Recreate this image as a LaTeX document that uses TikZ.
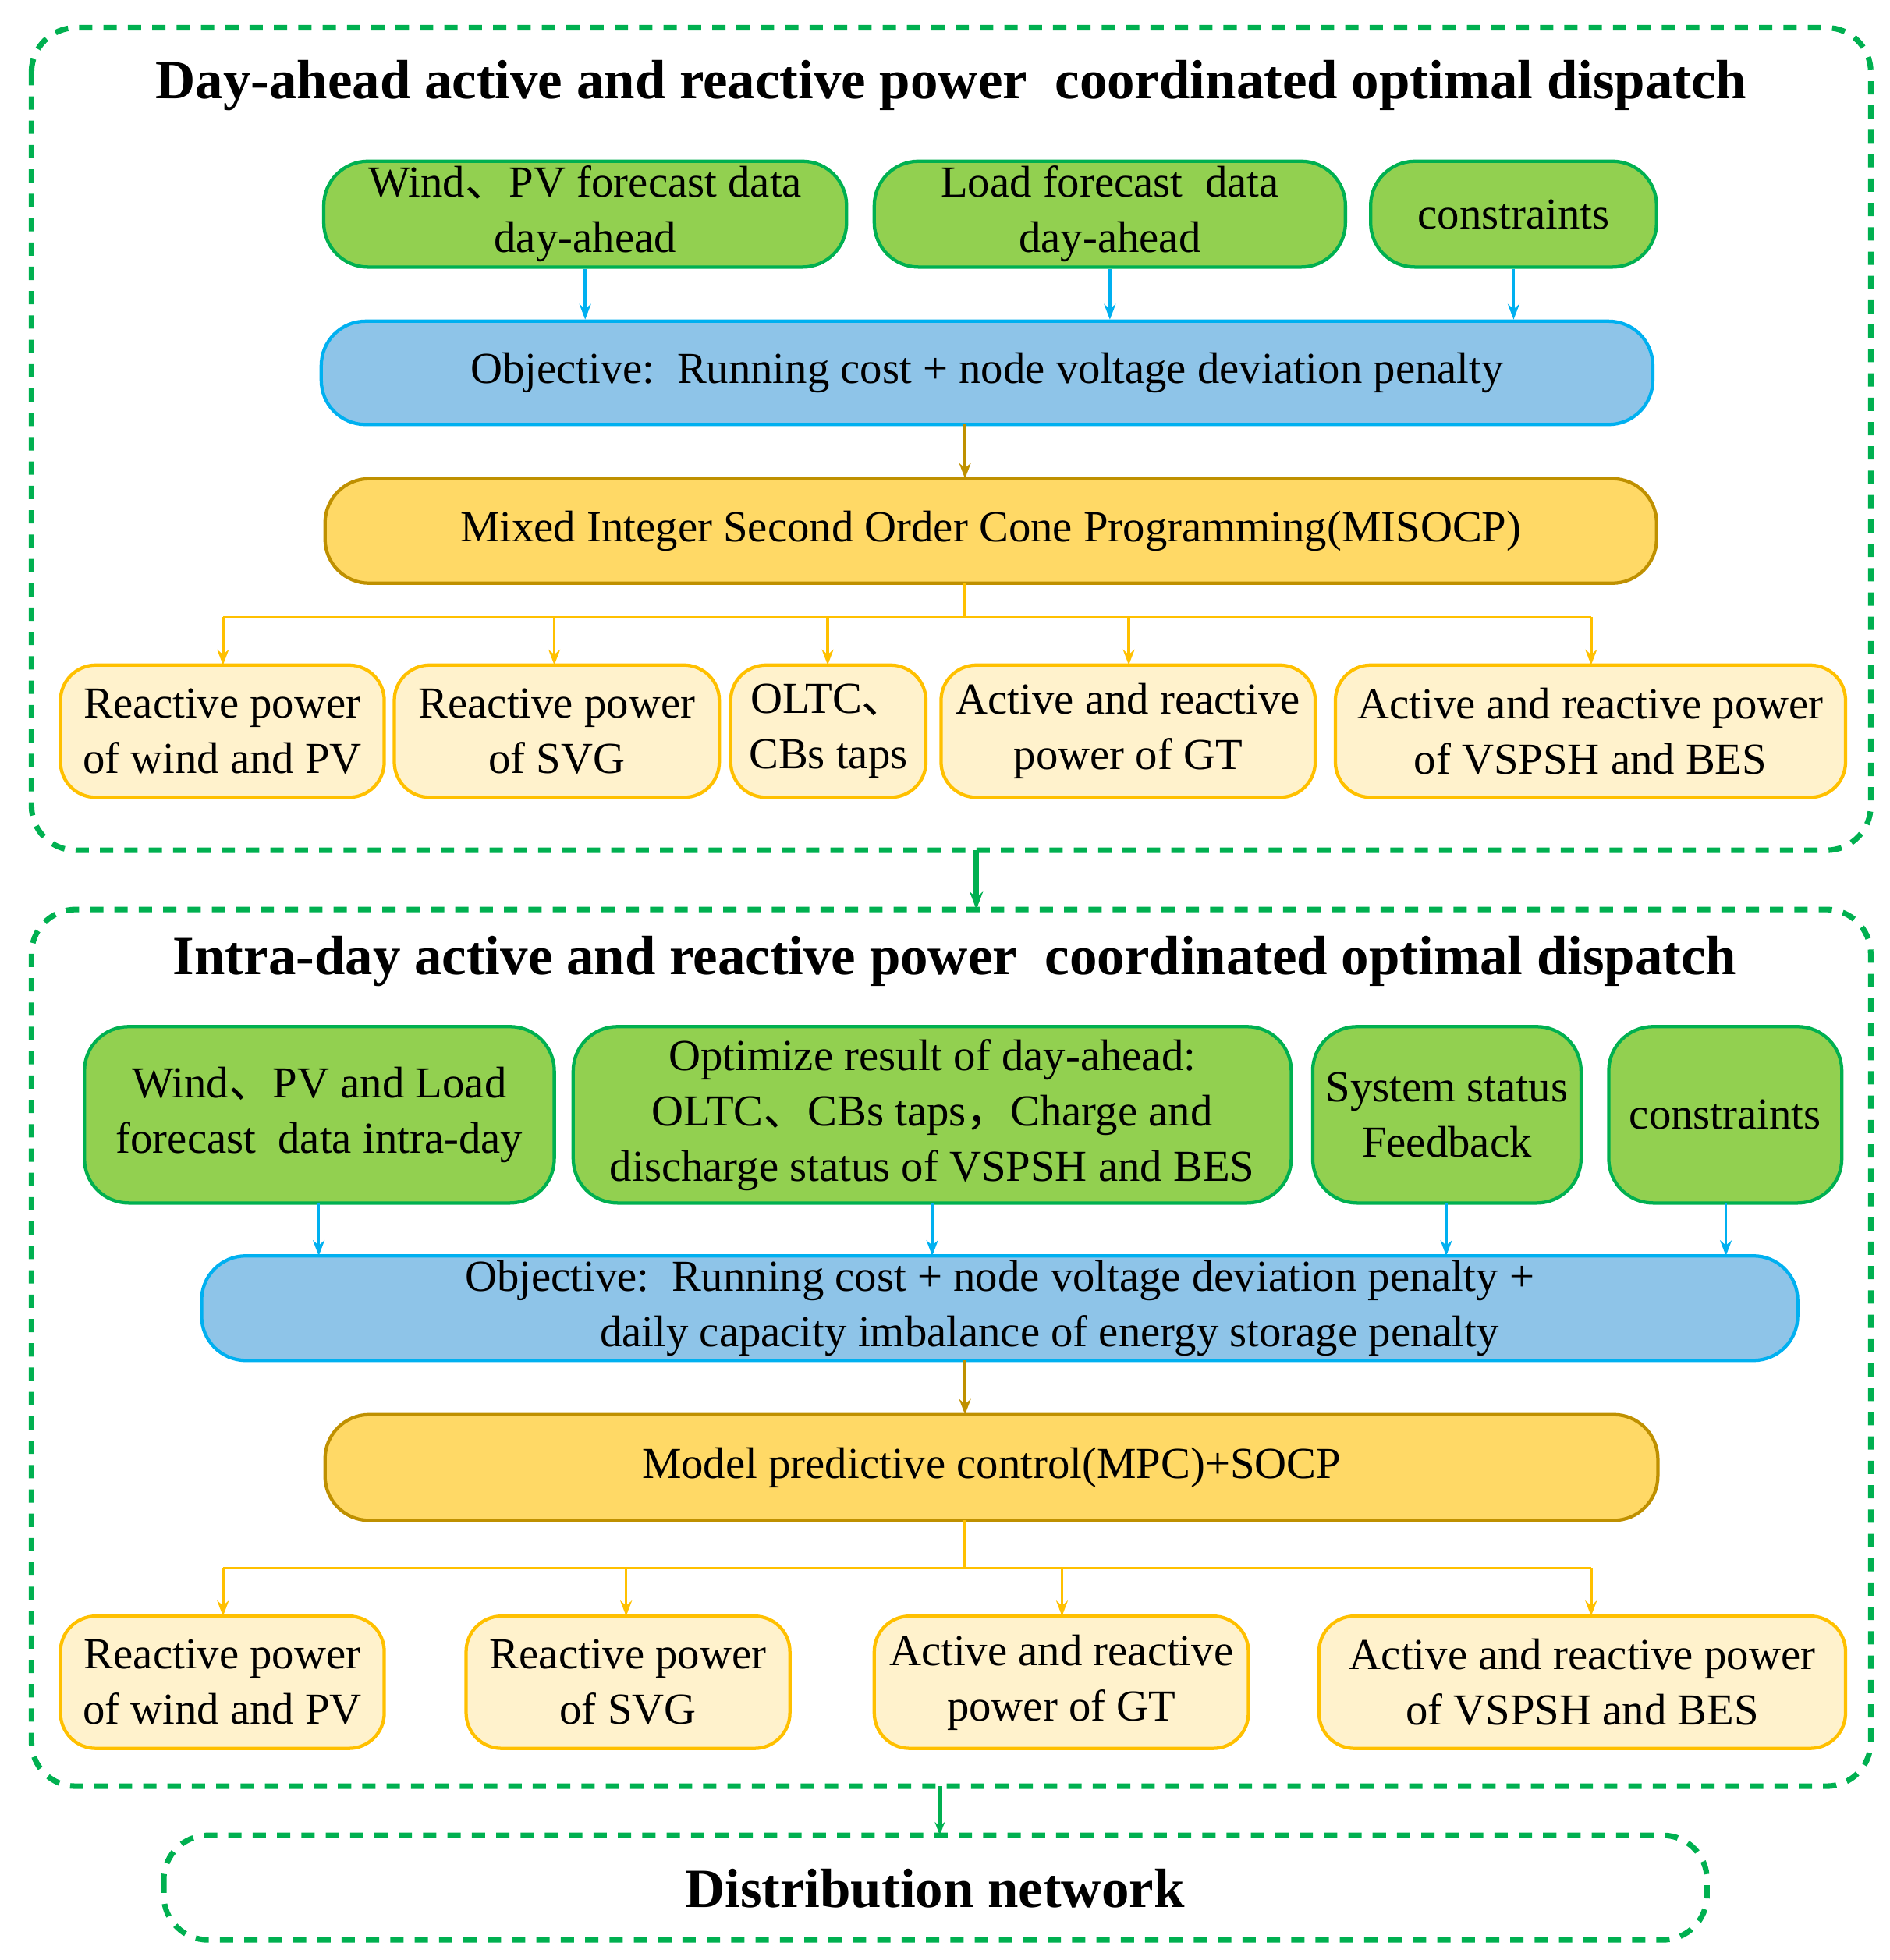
\documentclass[tikz,border=0pt]{standalone}
\usepackage{fontspec}
\setmainfont{Liberation Serif}
\newfontfamily\cjk{Noto Sans CJK SC}
\newcommand{\dn}{{\cjk 、}}
\newcommand{\cm}{{\cjk ，}}
\usetikzlibrary{arrows.meta}
\definecolor{gf}{HTML}{92D050}\definecolor{gb}{HTML}{00B050}
\definecolor{bf}{HTML}{8EC4E8}\definecolor{bb}{HTML}{00B0F0}
\definecolor{yf}{HTML}{FFD966}\definecolor{yb}{HTML}{BF9000}
\definecolor{lf}{HTML}{FFF2CC}\definecolor{lb}{HTML}{FFC000}
\definecolor{dg}{HTML}{00B050}
\begin{document}
\begin{tikzpicture}[x=0.02cm,y=-0.02cm,
 bx/.style={draw,line width=1.5pt,rounded corners=12pt,align=center,font=\fontsize{20}{25}\selectfont},
 G/.style={bx,fill=gf,draw=gb,rounded corners=20pt},
 B/.style={bx,fill=bf,draw=bb,rounded corners=20pt},
 Y/.style={bx,fill=yf,draw=yb,rounded corners=20pt},
 L/.style={bx,fill=lf,draw=lb,rounded corners=16pt},
 D/.style={draw=dg,line width=2.5pt,dash pattern=on 6pt off 5pt,rounded corners=20pt},
 ab/.style={-{Stealth[length=7pt]},bb,line width=1.2pt},
 ay/.style={-{Stealth[length=7pt]},yb,line width=1.2pt},
 al/.style={-{Stealth[length=7pt]},lb,line width=1.2pt},
 ag/.style={-{Stealth[length=8pt]},dg,line width=2.5pt},
 tt/.style={font=\fontsize{25}{30}\selectfont\bfseries}]
\useasboundingbox (0,0) rectangle (1500,1556);
\newcommand{\bxn}[6]{\node[#1,minimum width=(#4-#2)*0.02cm,minimum height=(#5-#3)*0.02cm,inner sep=1pt] (#6) at ({(#2+#4)/2},{(#3+#5)/2})}
% top
\draw[D] (25,22) rectangle (1485,675);
\node[tt] (t1) at (755,68) {Day-ahead active and reactive power\ \ coordinated optimal dispatch};
\bxn{G}{257}{128}{672}{212}{g1} {Wind\dn PV forecast data\\ day-ahead};
\bxn{G}{694}{128}{1068}{212}{g2} {Load forecast\ \ data\\ day-ahead};
\bxn{G}{1088}{128}{1315}{212}{g3} {constraints};
\bxn{B}{255}{255}{1312}{337}{b1} {Objective:\ \ Running cost + node voltage deviation penalty};
\bxn{Y}{258}{380}{1315}{463}{y1} {Mixed Integer Second Order Cone Programming(MISOCP)};
\bxn{L}{48}{528}{305}{633}{l1} {Reactive power\\ of wind and PV};
\bxn{L}{313}{528}{571}{633}{l2} {Reactive power\\ of SVG};
\bxn{L}{580}{528}{735}{633}{l3} {OLTC\dn\\CBs taps};
\bxn{L}{747}{528}{1044}{633}{l4} {Active and reactive\\ power of GT};
\bxn{L}{1060}{528}{1465}{633}{l5} {Active and reactive power\\ of VSPSH and BES};
\draw[ab] (g1.south) -- (g1.south|-b1.north);
\draw[ab] (g2.south) -- (g2.south|-b1.north);
\draw[ab] (g3.south) -- (g3.south|-b1.north);
\draw[ay] (766,337) -- (766,380);
\coordinate (c1) at (766,490);
\draw[lb,line width=1.2pt] (766,463) -- (c1) (177,490) -- (1263,490);
\foreach \x/\n in {177/l1,440/l2,657/l3,896/l4,1263/l5} \draw[al] (\x,490) -- (\x,528);
% middle
\draw[ag] (775,675) -- (775,722);
\draw[D] (25,722) rectangle (1485,1418);
\node[tt] (t2) at (758,763) {Intra-day active and reactive power\ \ coordinated optimal dispatch};
\bxn{G}{67}{815}{440}{955}{h1} {Wind\dn PV and Load\\ forecast\ \ data intra-day};
\bxn{G}{455}{815}{1025}{955}{h2} {Optimize result of day-ahead:\\ OLTC\dn CBs taps\cm Charge and\\ discharge status of VSPSH and BES};
\bxn{G}{1042}{815}{1255}{955}{h3} {System status\\ Feedback};
\bxn{G}{1277}{815}{1462}{955}{h4} {constraints};
\bxn{B}{160}{997}{1427}{1080}{b2} {Objective:\ \ Running cost + node voltage deviation penalty +\\ \ \ \ \ \ \ \ \ \ daily capacity imbalance of energy storage penalty};
\bxn{Y}{258}{1123}{1316}{1207}{y2} {Model predictive control(MPC)+SOCP};
\bxn{L}{48}{1283}{305}{1388}{m1} {Reactive power\\ of wind and PV};
\bxn{L}{370}{1283}{627}{1388}{m2} {Reactive power\\ of SVG};
\bxn{L}{694}{1283}{991}{1388}{m3} {Active and reactive\\ power of GT};
\bxn{L}{1047}{1283}{1465}{1388}{m4} {Active and reactive power\\ of VSPSH and BES};
\foreach \x in {253,740,1148,1370} \draw[ab] (\x,955) -- (\x,997);
\draw[ay] (766,1080) -- (766,1123);
\draw[lb,line width=1.2pt] (766,1207) -- (766,1245) (177,1245) -- (1263,1245);
\foreach \x in {177,497,843,1263} \draw[al] (\x,1245) -- (\x,1283);
% bottom
\draw[-{Stealth[length=6pt]},dg,line width=2pt] (746,1418) -- (746,1457);
\draw[D] (130,1457) rectangle (1355,1540);
\node[tt] (dn) at (742,1499) {Distribution network};
\end{tikzpicture}
\end{document}
